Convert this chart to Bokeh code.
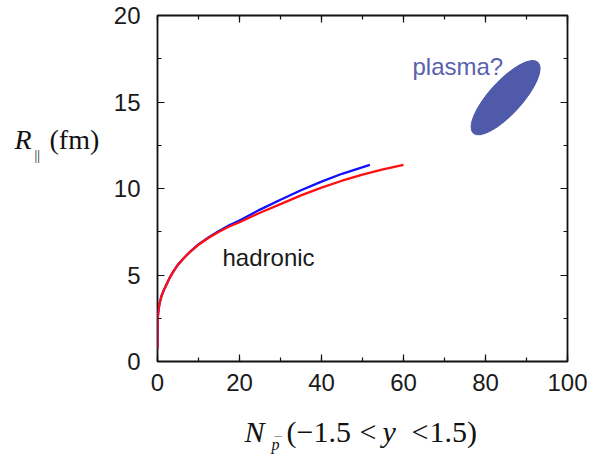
from bokeh.plotting import figure
from bokeh.models import Range1d, SingleIntervalTicker, LinearAxis, Label
from bokeh.layouts import row, column
from bokeh.embed import file_html
from bokeh.resources import INLINE
import math

# ---- data ----
red_x = [0, 0.02, 0.1, 0.25, 0.5, 1, 1.5, 2, 3, 4, 5, 6.5, 8, 10, 12.5, 15, 17.5, 20,
         25, 30, 35, 40, 45, 50, 55, 60]
red_y = [0.75, 1.8, 2.6, 3.0, 3.35, 3.8, 4.1, 4.35, 4.85, 5.25, 5.6, 6.0, 6.35, 6.75, 7.15,
         7.5, 7.8, 8.05, 8.6, 9.1, 9.6, 10.05, 10.45, 10.8, 11.1, 11.37]
blue_x = [0, 0.02, 0.1, 0.25, 0.5, 1, 1.5, 2, 3, 4, 5, 6.5, 8, 10, 12.5, 15, 17.5, 20,
          25, 30, 35, 40, 45, 51.8]
blue_y = [0.75, 1.8, 2.6, 3.0, 3.35, 3.8, 4.1, 4.35, 4.85, 5.25, 5.6, 6.0, 6.35, 6.77, 7.18,
          7.55, 7.88, 8.15, 8.78, 9.35, 9.9, 10.4, 10.85, 11.37]
plasma_x = [84.9]
plasma_y = [15.25]
x_ticks_major = 20
y_ticks_major = 5

# ---- layout constants (page pixels) ----
W, H = 589, 457
LW = 108          # width of left strip holding the y label
BH = 51           # height of bottom strip holding the x label
FL, FR, FT, FB = 157, 567, 15, 361  # frame pixel edges on the page
XMIN, XMAX, YMIN, YMAX = 0, 100, 0, 20
BASE_SHIFT = 0.3  # empirical baseline correction (fraction of font size)

MW, MH = W - LW, H - BH

p = figure(width=MW, height=MH, output_backend="svg", toolbar_location=None,
           x_range=Range1d(XMIN, XMAX), y_range=Range1d(YMIN, YMAX),
           x_axis_location=None, y_axis_location=None,
           min_border_left=FL - LW, min_border_right=W - FR,
           min_border_top=FT, min_border_bottom=MH - FB)
p.xgrid.visible = False
p.ygrid.visible = False
p.outline_line_color = "#111111"
p.outline_line_width = 1.8
p.background_fill_color = "white"
p.border_fill_color = "white"


def mk_axis(interval, show_labels, standoff):
    ax = LinearAxis(ticker=SingleIntervalTicker(interval=interval, num_minor_ticks=2))
    ax.axis_line_color = None
    ax.major_tick_in = 7
    ax.major_tick_out = 0
    ax.minor_tick_in = 4
    ax.minor_tick_out = 0
    ax.major_tick_line_color = "#111111"
    ax.minor_tick_line_color = "#111111"
    ax.major_tick_line_width = 1.2
    ax.minor_tick_line_width = 1.2
    if show_labels:
        ax.major_label_text_font = "Liberation Sans"
        ax.major_label_text_font_size = "24px"
        ax.major_label_text_color = "#1a1a1a"
        ax.major_label_standoff = standoff
    else:
        ax.major_label_text_font_size = "1px"
        ax.major_label_text_color = None
        ax.major_label_standoff = 0
    return ax


p.add_layout(mk_axis(x_ticks_major, True, 12), "below")
p.add_layout(mk_axis(y_ticks_major, True, 17), "left")
p.add_layout(mk_axis(x_ticks_major, False, 0), "above")
p.add_layout(mk_axis(y_ticks_major, False, 0), "right")

# curves
p.line(blue_x, blue_y, line_color="#1010ff", line_width=2.3)
p.line(red_x, red_y, line_color="#ff1010", line_width=2.3)

# plasma ellipse
p.ellipse(x=plasma_x, y=plasma_y, width=96, height=33, angle=math.radians(47.7),
          width_units="screen", height_units="screen",
          fill_color="#4f5aaa", line_color="#4f5aaa")


def px2d(px, py):
    x = XMIN + (px - FL) / (FR - FL) * (XMAX - XMIN)
    y = YMIN + (FB - py) / (FB - FT) * (YMAX - YMIN)
    return x, y


def lab(fig, text, x, y, font="Liberation Sans", size=23, style="normal", color="#1a1a1a"):
    fig.add_layout(Label(x=x, y=y, text=text, text_font=font, text_font_size=f"{size}px",
                         text_font_style=style, text_color=color,
                         text_baseline="alphabetic", text_align="left"))


def lab_main(text, px, py, size, color):
    lab(p, text, *px2d(px, py - BASE_SHIFT * size), size=size, color=color)


lab_main("plasma?", 412, 72.7, 24, "#5a62ac")
lab_main("hadronic", 222, 264.3, 24, "#1a1a1a")


def strip(w, h):
    f = figure(width=w, height=h, output_backend="svg", toolbar_location=None,
               x_range=Range1d(0, w), y_range=Range1d(h, 0),
               x_axis_location=None, y_axis_location=None,
               min_border=0)
    f.xgrid.visible = False
    f.ygrid.visible = False
    f.outline_line_color = None
    f.background_fill_color = "white"
    f.border_fill_color = "white"
    return f


def lab_strip(fig, text, px, py, size, style="normal", color="#111111", yoff=0):
    lab(fig, text, px, py - yoff - BASE_SHIFT * size, font="Liberation Serif",
        size=size, style=style, color=color)


# y-axis label strip:  R_|| (fm)
ys = strip(LW, MH)
lab_strip(ys, "R", 14, 154, 28, style="italic")
lab_strip(ys, "||", 34, 168, 14)
lab_strip(ys, "(fm)", 49, 154, 28)

# x-axis label strip:  N_p^- (-1.5 < y < 1.5)
xs = strip(W, BH)
o = MH
lab_strip(xs, "N", 244, 440, 30, style="italic", yoff=o)
lab_strip(xs, "\u2212", 273, 441, 16, color="#8a8a8a", yoff=o)
lab_strip(xs, "p", 271, 448.5, 16, style="italic", yoff=o)
lab_strip(xs, "(\u22121.5", 286, 440, 30, yoff=o)
lab_strip(xs, "<", 359, 440, 30, yoff=o)
lab_strip(xs, "y", 382, 440, 30, style="italic", yoff=o)
lab_strip(xs, "<", 411, 440, 30, yoff=o)
lab_strip(xs, "1.5)", 429, 440, 30, yoff=o)

layout = column(row(ys, p, spacing=0), xs, spacing=0)
open("out.html", "w").write(file_html(layout, INLINE))
